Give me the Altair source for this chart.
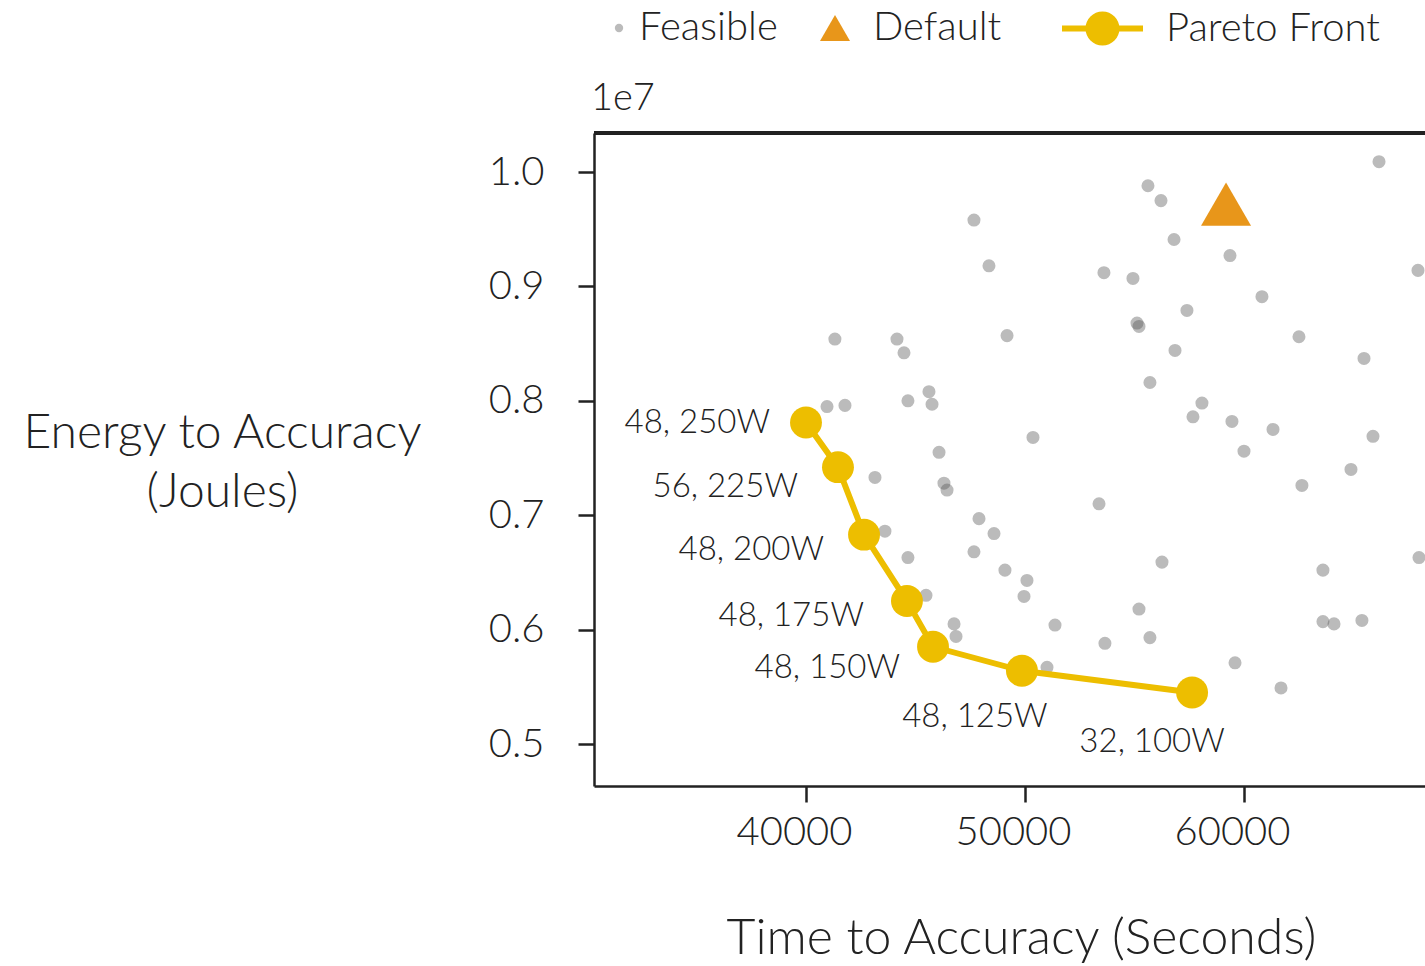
import altair as alt
import pandas as pd

# ---- data -------------------------------------------------------------
# Feasible configurations: time to accuracy (s) and energy to accuracy (J)
feasible_time = [
    41320, 44155, 44475, 40960, 41780, 45615, 44655, 45755, 47670, 48355,
    49180, 46075, 43150, 46300, 46440, 43605, 44655, 45480, 47900, 48585,
    47670, 49085, 50090, 49955, 46760, 46850, 50365, 51370, 51005, 53380,
    53605, 53650, 55615, 56210, 56805, 54930, 55115, 55205, 57395, 56850,
    55705, 58080, 57670, 59360, 60820, 62510, 59450, 60000, 61325, 62645,
    65480, 65890, 64885, 66165, 67945, 56255, 55205, 55705, 59590, 61690,
    63605, 63605, 64110, 65385, 67990,
]
feasible_energy = [
    8.54e6, 8.54e6, 8.42e6, 7.95e6, 7.96e6, 8.08e6, 8.00e6, 7.97e6, 9.58e6, 9.18e6,
    8.57e6, 7.55e6, 7.33e6, 7.28e6, 7.22e6, 6.86e6, 6.63e6, 6.30e6, 6.97e6, 6.84e6,
    6.68e6, 6.52e6, 6.43e6, 6.29e6, 6.05e6, 5.94e6, 7.68e6, 6.04e6, 5.67e6, 7.10e6,
    9.12e6, 5.88e6, 9.88e6, 9.75e6, 9.41e6, 9.07e6, 8.68e6, 8.65e6, 8.79e6, 8.44e6,
    8.16e6, 7.98e6, 7.86e6, 9.27e6, 8.91e6, 8.56e6, 7.82e6, 7.56e6, 7.75e6, 7.26e6,
    8.37e6, 7.69e6, 7.40e6, 10.09e6, 9.14e6, 6.59e6, 6.18e6, 5.93e6, 5.71e6, 5.49e6,
    6.52e6, 6.07e6, 6.05e6, 6.08e6, 6.63e6,
]

# Default configuration
default_time = [59180]
default_energy = [9.72e6]

# Pareto-optimal configurations (batch size, power limit)
pareto_time = [40000, 41460, 42650, 44610, 45800, 49860, 57630]
pareto_energy = [7.81e6, 7.42e6, 6.83e6, 6.25e6, 5.85e6, 5.64e6, 5.45e6]
pareto_label = ["48, 250W", "56, 225W", "48, 200W", "48, 175W",
                "48, 150W", "48, 125W", "32, 100W"]

# ---- style --------------------------------------------------------------
FONT = "Lato"
WEIGHT = 300
INK = "#222222"
GRAY = "#555555"
ORANGE = "#E8961A"
GOLD = "#EDBE00"

W, H = 831, 653
X_DOMAIN = [30320, 68265]
Y_DOMAIN = [4.633e6, 10.341e6]

# label placement next to each Pareto point: (align, dx, dy)
label_style = [("right", -36, 0), ("right", -40, 20), ("right", -40, 15),
               ("right", -43, 15), ("right", -33, 21), ("center", -47, 46),
               ("center", -40, 49)]

# bbox-centred equilateral triangle and a "line through a dot" legend glyph
TRIANGLE = "M0,-0.866L-1,0.866L1,0.866Z"
LINE_DOT = ("M-1,-0.075L1,-0.075L1,0.075L-1,0.075Z"
            "M-0.42,0A0.42,0.42 0 1,1 0.42,0A0.42,0.42 0 1,1 -0.42,0Z")

feasible_df = pd.DataFrame({"time": feasible_time, "energy": feasible_energy,
                            "series": "Feasible"})
default_df = pd.DataFrame({"time": default_time, "energy": default_energy,
                           "series": "Default"})
pareto_df = pd.DataFrame({"time": pareto_time, "energy": pareto_energy,
                          "label": pareto_label, "series": "Pareto Front"})

x_scale = alt.Scale(domain=X_DOMAIN, nice=False, zero=False)
y_scale = alt.Scale(domain=Y_DOMAIN, nice=False, zero=False)

x_enc = alt.X(
    "time:Q", scale=x_scale,
    axis=alt.Axis(
        values=[40000, 50000, 60000], format="d", grid=False,
        labelPadding=10, labelOffset=-12,
        title="Time to Accuracy (Seconds)", titleX=427, titleY=152,
        titleAlign="center", titleBaseline="middle", titleFontSize=50,
    ),
)
y_enc = alt.Y(
    "energy:Q", scale=y_scale,
    axis=alt.Axis(
        values=[5e6, 6e6, 7e6, 8e6, 9e6, 10e6], grid=False,
        labelExpr="format(datum.value / 1e7, '.1f')", labelPadding=34,
        title=["Energy to Accuracy", "(Joules)"], titleAngle=0,
        titleX=-372, titleY=300, titleAlign="center", titleBaseline="middle",
        titleLineHeight=59, titleFontSize=48,
    ),
)


def legend(pos_x, pos_y, symbol, size, offset):
    return alt.Legend(
        title=None, orient="none", legendX=pos_x, legendY=pos_y,
        symbolType=symbol, symbolSize=size, symbolStrokeWidth=0,
        labelOffset=offset, labelFont=FONT, labelFontSize=40,
        labelFontWeight=WEIGHT, labelColor=INK, labelLimit=400, padding=0,
    )


feasible = alt.Chart(feasible_df).mark_circle(size=170, opacity=0.4).encode(
    x=x_enc, y=y_enc,
    color=alt.Color("series:N",
                    scale=alt.Scale(domain=["Feasible"], range=[GRAY]),
                    legend=legend(5, -125, "circle", 70, 0)),
)

default = alt.Chart(default_df).mark_point(
    shape=TRIANGLE, size=2500, filled=True, opacity=1, strokeWidth=0
).encode(
    x="time:Q", y="energy:Q",
    color=alt.Color("series:N",
                    scale=alt.Scale(domain=["Default"], range=[ORANGE]),
                    legend=legend(221, -125, TRIANGLE, 900, 18)),
)

pareto_line = alt.Chart(pareto_df).mark_line(color=GOLD, strokeWidth=6).encode(
    x="time:Q", y="energy:Q", order="time:Q",
)

pareto_points = alt.Chart(pareto_df).mark_circle(size=1018, opacity=1).encode(
    x="time:Q", y="energy:Q",
    color=alt.Color("series:N",
                    scale=alt.Scale(domain=["Pareto Front"], range=[GOLD]),
                    legend=legend(468, -145, LINE_DOT, 6561, 23)),
)

labels = []
for name, (align, dx, dy) in zip(pareto_label, label_style):
    labels.append(
        alt.Chart(pareto_df).transform_filter(alt.datum.label == name)
        .mark_text(align=align, baseline="middle", dx=dx, dy=dy,
                   font=FONT, fontSize=33, fontWeight=WEIGHT, color=INK)
        .encode(x="time:Q", y="energy:Q", text="label:N")
    )

# top edge of the frame
top_edge = alt.Chart(feasible_df).mark_rule(color=INK, strokeWidth=2.5).encode(
    x=alt.value(0), x2=alt.value(W), y=alt.value(0),
)

# scale multiplier shown above the energy axis
multiplier = alt.Chart(default_df).mark_text(
    align="left", baseline="alphabetic", font=FONT, fontSize=38,
    fontWeight=WEIGHT, color=INK,
).encode(x=alt.value(-3), y=alt.value(-23), text=alt.value("1e7"))

chart = alt.layer(
    feasible, default, pareto_line, pareto_points, *labels, top_edge, multiplier
).resolve_scale(color="independent").properties(
    width=W, height=H,
    padding={"left": 594, "top": 133, "right": 0, "bottom": 180},
    autosize=alt.AutoSizeParams(type="none"),
    background="white",
).configure_view(stroke=None).configure_axis(
    domainColor=INK, domainWidth=2.5, tickColor=INK, tickWidth=2.5,
    tickSize=16, labelFont=FONT, labelFontSize=40, labelFontWeight=WEIGHT,
    labelColor=INK, titleFont=FONT, titleFontWeight=WEIGHT, titleColor=INK,
)

chart.save("out.html", embed_options={"renderer": "svg", "actions": False})
